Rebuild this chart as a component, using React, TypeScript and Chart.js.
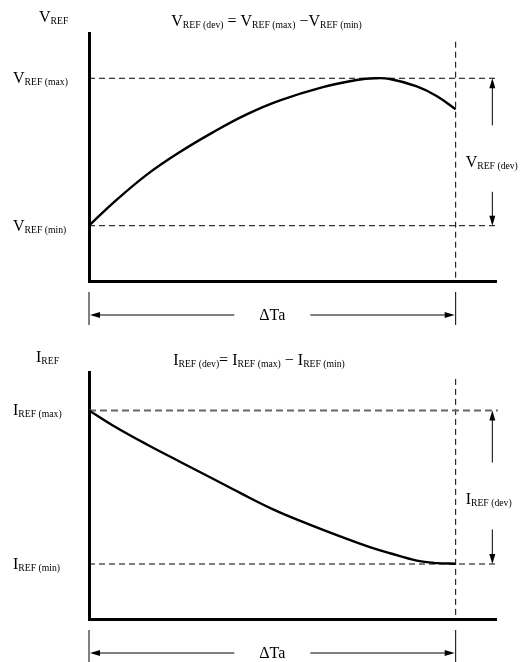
import React, { useEffect, useRef } from "react";
import { Chart, registerables } from "chart.js";

Chart.register(...registerables);

const FONT = '"Liberation Serif", "Times New Roman", serif';

// ---- data (normalised units: ΔTa span = 0..100, REF min = 0, REF max = 100) ----
const xAxisRange = [0, 111];
const deltaTaSpan = [0, 100];
const dashedLineEnd = 111.5;

const vrefX = [0, 6.6, 15.7, 24.8, 33.9, 43.0, 52.1, 63.8, 73.0, 78.0, 82.1, 89.4, 94.8, 100];
const vrefY = [0, 15.5, 34.5, 50, 63.5, 75.5, 85, 94, 98.8, 100, 99.5, 94.5, 88, 79];
const vrefLevels = [0, 100];
const vAxisRange = [-37.5, 130.7];
const vVerticalTop = 124.8;
const vDevMarks = [68, 40, 23]; // up-arrow end, label baseline, down-arrow start

const irefX = [0, 6.5, 15.8, 24.8, 33.8, 41.2, 50.2, 59.5, 68.5, 76.6, 82.1, 89.4, 94.9, 100];
const irefY = [100, 90.2, 77.8, 66.6, 55.5, 46.3, 35.6, 26.3, 18, 11, 7, 2.2, 0.6, 0.2];
const irefLevels = [0, 100];
const iAxisRange = [-35.8, 125];
const iVerticalTop = 120.5;
const iDevMarks = [66, 39, 22.5];

type Part = [string, boolean];

function drawRich(ctx: CanvasRenderingContext2D, parts: Part[], x: number, y: number, align: "left" | "center") {
  const mainF = `16px ${FONT}`;
  const subF = `9.7px ${FONT}`;
  let w = 0;
  for (const [t, s] of parts) {
    ctx.font = s ? subF : mainF;
    w += ctx.measureText(t).width;
  }
  let cx = align === "center" ? x - w / 2 : x;
  ctx.textBaseline = "alphabetic";
  ctx.textAlign = "left";
  ctx.fillStyle = "#000";
  for (const [t, s] of parts) {
    ctx.font = s ? subF : mainF;
    ctx.fillText(t, cx, s ? y + 2 : y);
    cx += ctx.measureText(t).width;
  }
}

function arrowHead(ctx: CanvasRenderingContext2D, x: number, y: number, dx: number, dy: number) {
  const len = 10;
  const hw = 3;
  const px = -dy;
  const py = dx;
  ctx.beginPath();
  ctx.moveTo(x, y);
  ctx.lineTo(x - dx * len + px * hw, y - dy * len + py * hw);
  ctx.lineTo(x - dx * len - px * hw, y - dy * len - py * hw);
  ctx.closePath();
  ctx.fill();
}

function line(ctx: CanvasRenderingContext2D, x1: number, y1: number, x2: number, y2: number) {
  ctx.beginPath();
  ctx.moveTo(x1, y1);
  ctx.lineTo(x2, y2);
  ctx.stroke();
}

interface PanelSpec {
  xs: number[];
  ys: number[];
  levels: number[];
  yRange: number[];
  vTop: number;
  devMarks: number[];
  sym: string;
  padding: { left: number; top: number; right: number; bottom: number };
  axisLabel: { x: number; y: number };
  title: { x: number; y: number; parts: Part[] };
  maxColor: string;
  maxWidth: number;
  maxDash: number[];
}

const panels: PanelSpec[] = [
  {
    xs: vrefX,
    ys: vrefY,
    levels: vrefLevels,
    yRange: vAxisRange,
    vTop: vVerticalTop,
    devMarks: vDevMarks,
    sym: "V",
    padding: { left: 89, top: 33, right: 24, bottom: 50 },
    axisLabel: { x: 39, y: 22 },
    title: {
      x: 266.5,
      y: 25.7,
      parts: [
        ["V", false], ["REF (dev)", true], [" = V", false], ["REF (max)", true], [" \u2212V", false], ["REF (min)", true],
      ],
    },
    maxColor: "#000",
    maxWidth: 1,
    maxDash: [6, 4],
  },
  {
    xs: irefX,
    ys: irefY,
    levels: irefLevels,
    yRange: iAxisRange,
    vTop: iVerticalTop,
    devMarks: iDevMarks,
    sym: "I",
    padding: { left: 89, top: 41, right: 24, bottom: 43 },
    axisLabel: { x: 36, y: 30.7 },
    title: {
      x: 259,
      y: 34,
      parts: [
        ["I", false], ["REF (dev)", true], ["= I", false], ["REF (max)", true], [" \u2212 I", false], ["REF (min)", true],
      ],
    },
    maxColor: "#666",
    maxWidth: 2,
    maxDash: [7, 4],
  },
];

function makeChart(canvas: HTMLCanvasElement, p: PanelSpec) {
  const [lo, hi] = p.levels;
  const annot = {
    id: "annot" + p.sym,
    afterDraw(chart: any) {
      const ctx: CanvasRenderingContext2D = chart.ctx;
      const xs = chart.scales.x;
      const ys = chart.scales.y;
      const area = chart.chartArea;
      ctx.save();
      ctx.strokeStyle = "#000";
      ctx.fillStyle = "#000";
      ctx.lineWidth = 1;
      ctx.setLineDash([]);

      // axis label + title
      drawRich(ctx, [[p.sym, false], ["REF", true]], p.axisLabel.x, p.axisLabel.y, "left");
      drawRich(ctx, p.title.parts, p.title.x, p.title.y, "center");

      // level labels
      const yMax = ys.getPixelForValue(hi);
      const yMin = ys.getPixelForValue(lo);
      drawRich(ctx, [[p.sym, false], ["REF (max)", true]], 13, yMax + 5, "left");
      drawRich(ctx, [[p.sym, false], ["REF (min)", true]], 13, yMin + 5, "left");

      // deviation arrows on the right
      const ax = xs.getPixelForValue(110);
      const upEnd = ys.getPixelForValue(p.devMarks[0]);
      const lab = ys.getPixelForValue(p.devMarks[1]);
      const downStart = ys.getPixelForValue(p.devMarks[2]);
      ctx.fillStyle = "#000";
      line(ctx, ax, yMax + 4, ax, upEnd);
      arrowHead(ctx, ax, yMax, 0, -1);
      line(ctx, ax, downStart, ax, yMin - 4);
      arrowHead(ctx, ax, yMin, 0, 1);
      const xEnd = xs.getPixelForValue(deltaTaSpan[1]);
      drawRich(ctx, [[p.sym, false], ["REF (dev)", true]], xEnd + 10, lab, "left");

      // ΔTa dimension
      const x0 = xs.getPixelForValue(deltaTaSpan[0]);
      const x1 = xEnd;
      const b = area.bottom;
      ctx.fillStyle = "#000";
      line(ctx, x0, b + 11, x0, b + 44);
      line(ctx, x1, b + 11, x1, b + 44);
      const ay = b + 34;
      const mid = (x0 + x1) / 2;
      line(ctx, x0 + 4, ay, mid - 38, ay);
      line(ctx, mid + 38, ay, x1 - 4, ay);
      arrowHead(ctx, x0 + 1, ay, -1, 0);
      arrowHead(ctx, x1 - 1, ay, 1, 0);
      ctx.font = `16px ${FONT}`;
      ctx.textAlign = "center";
      ctx.textBaseline = "alphabetic";
      ctx.fillText("\u0394Ta", mid, ay + 5);
      ctx.restore();
    },
  };

  return new Chart(canvas, {
    type: "line",
    data: {
      datasets: [
        {
          data: p.xs.map((x, i) => ({ x, y: p.ys[i] })),
          borderColor: "#000",
          borderWidth: 2.4,
          pointRadius: 0,
          tension: 0.4,
          fill: false,
        },
        {
          data: [{ x: deltaTaSpan[0], y: hi }, { x: dashedLineEnd, y: hi }],
          borderColor: p.maxColor,
          borderWidth: p.maxWidth,
          borderDash: p.maxDash,
          pointRadius: 0,
          clip: false,
        },
        {
          data: [{ x: deltaTaSpan[0], y: lo }, { x: dashedLineEnd, y: lo }],
          borderColor: "#000",
          borderWidth: 1,
          borderDash: [6, 4],
          pointRadius: 0,
          clip: false,
        },
        {
          data: [{ x: deltaTaSpan[1], y: p.vTop }, { x: deltaTaSpan[1], y: p.yRange[0] }],
          borderColor: "#000",
          borderWidth: 1,
          borderDash: [6, 4],
          pointRadius: 0,
          clip: false,
        },
      ],
    } as any,
    options: {
      responsive: false,
      maintainAspectRatio: false,
      animation: false,
      events: [],
      layout: { padding: p.padding },
      plugins: { legend: { display: false }, tooltip: { enabled: false } },
      scales: {
        x: {
          type: "linear",
          min: xAxisRange[0],
          max: xAxisRange[1],
          grid: { display: false, drawTicks: false },
          ticks: { display: false },
          border: { display: true, width: 3, color: "#000" },
        },
        y: {
          type: "linear",
          min: p.yRange[0],
          max: p.yRange[1],
          grid: { display: false, drawTicks: false },
          ticks: { display: false },
          border: { display: true, width: 3, color: "#000" },
        },
      },
    } as any,
    plugins: [annot],
  });
}

export default function App() {
  const topRef = useRef<HTMLCanvasElement>(null);
  const botRef = useRef<HTMLCanvasElement>(null);
  useEffect(() => {
    const c1 = makeChart(topRef.current!, panels[0]);
    const c2 = makeChart(botRef.current!, panels[1]);
    return () => {
      c1.destroy();
      c2.destroy();
    };
  }, []);
  return (
    <div style={{ position: "absolute", left: 0, top: 0, width: 520, height: 662, background: "#fff" }}>
      <canvas ref={topRef} width={520} height={331} style={{ display: "block", width: 520, height: 331 }} />
      <canvas ref={botRef} width={520} height={331} style={{ display: "block", width: 520, height: 331 }} />
    </div>
  );
}
